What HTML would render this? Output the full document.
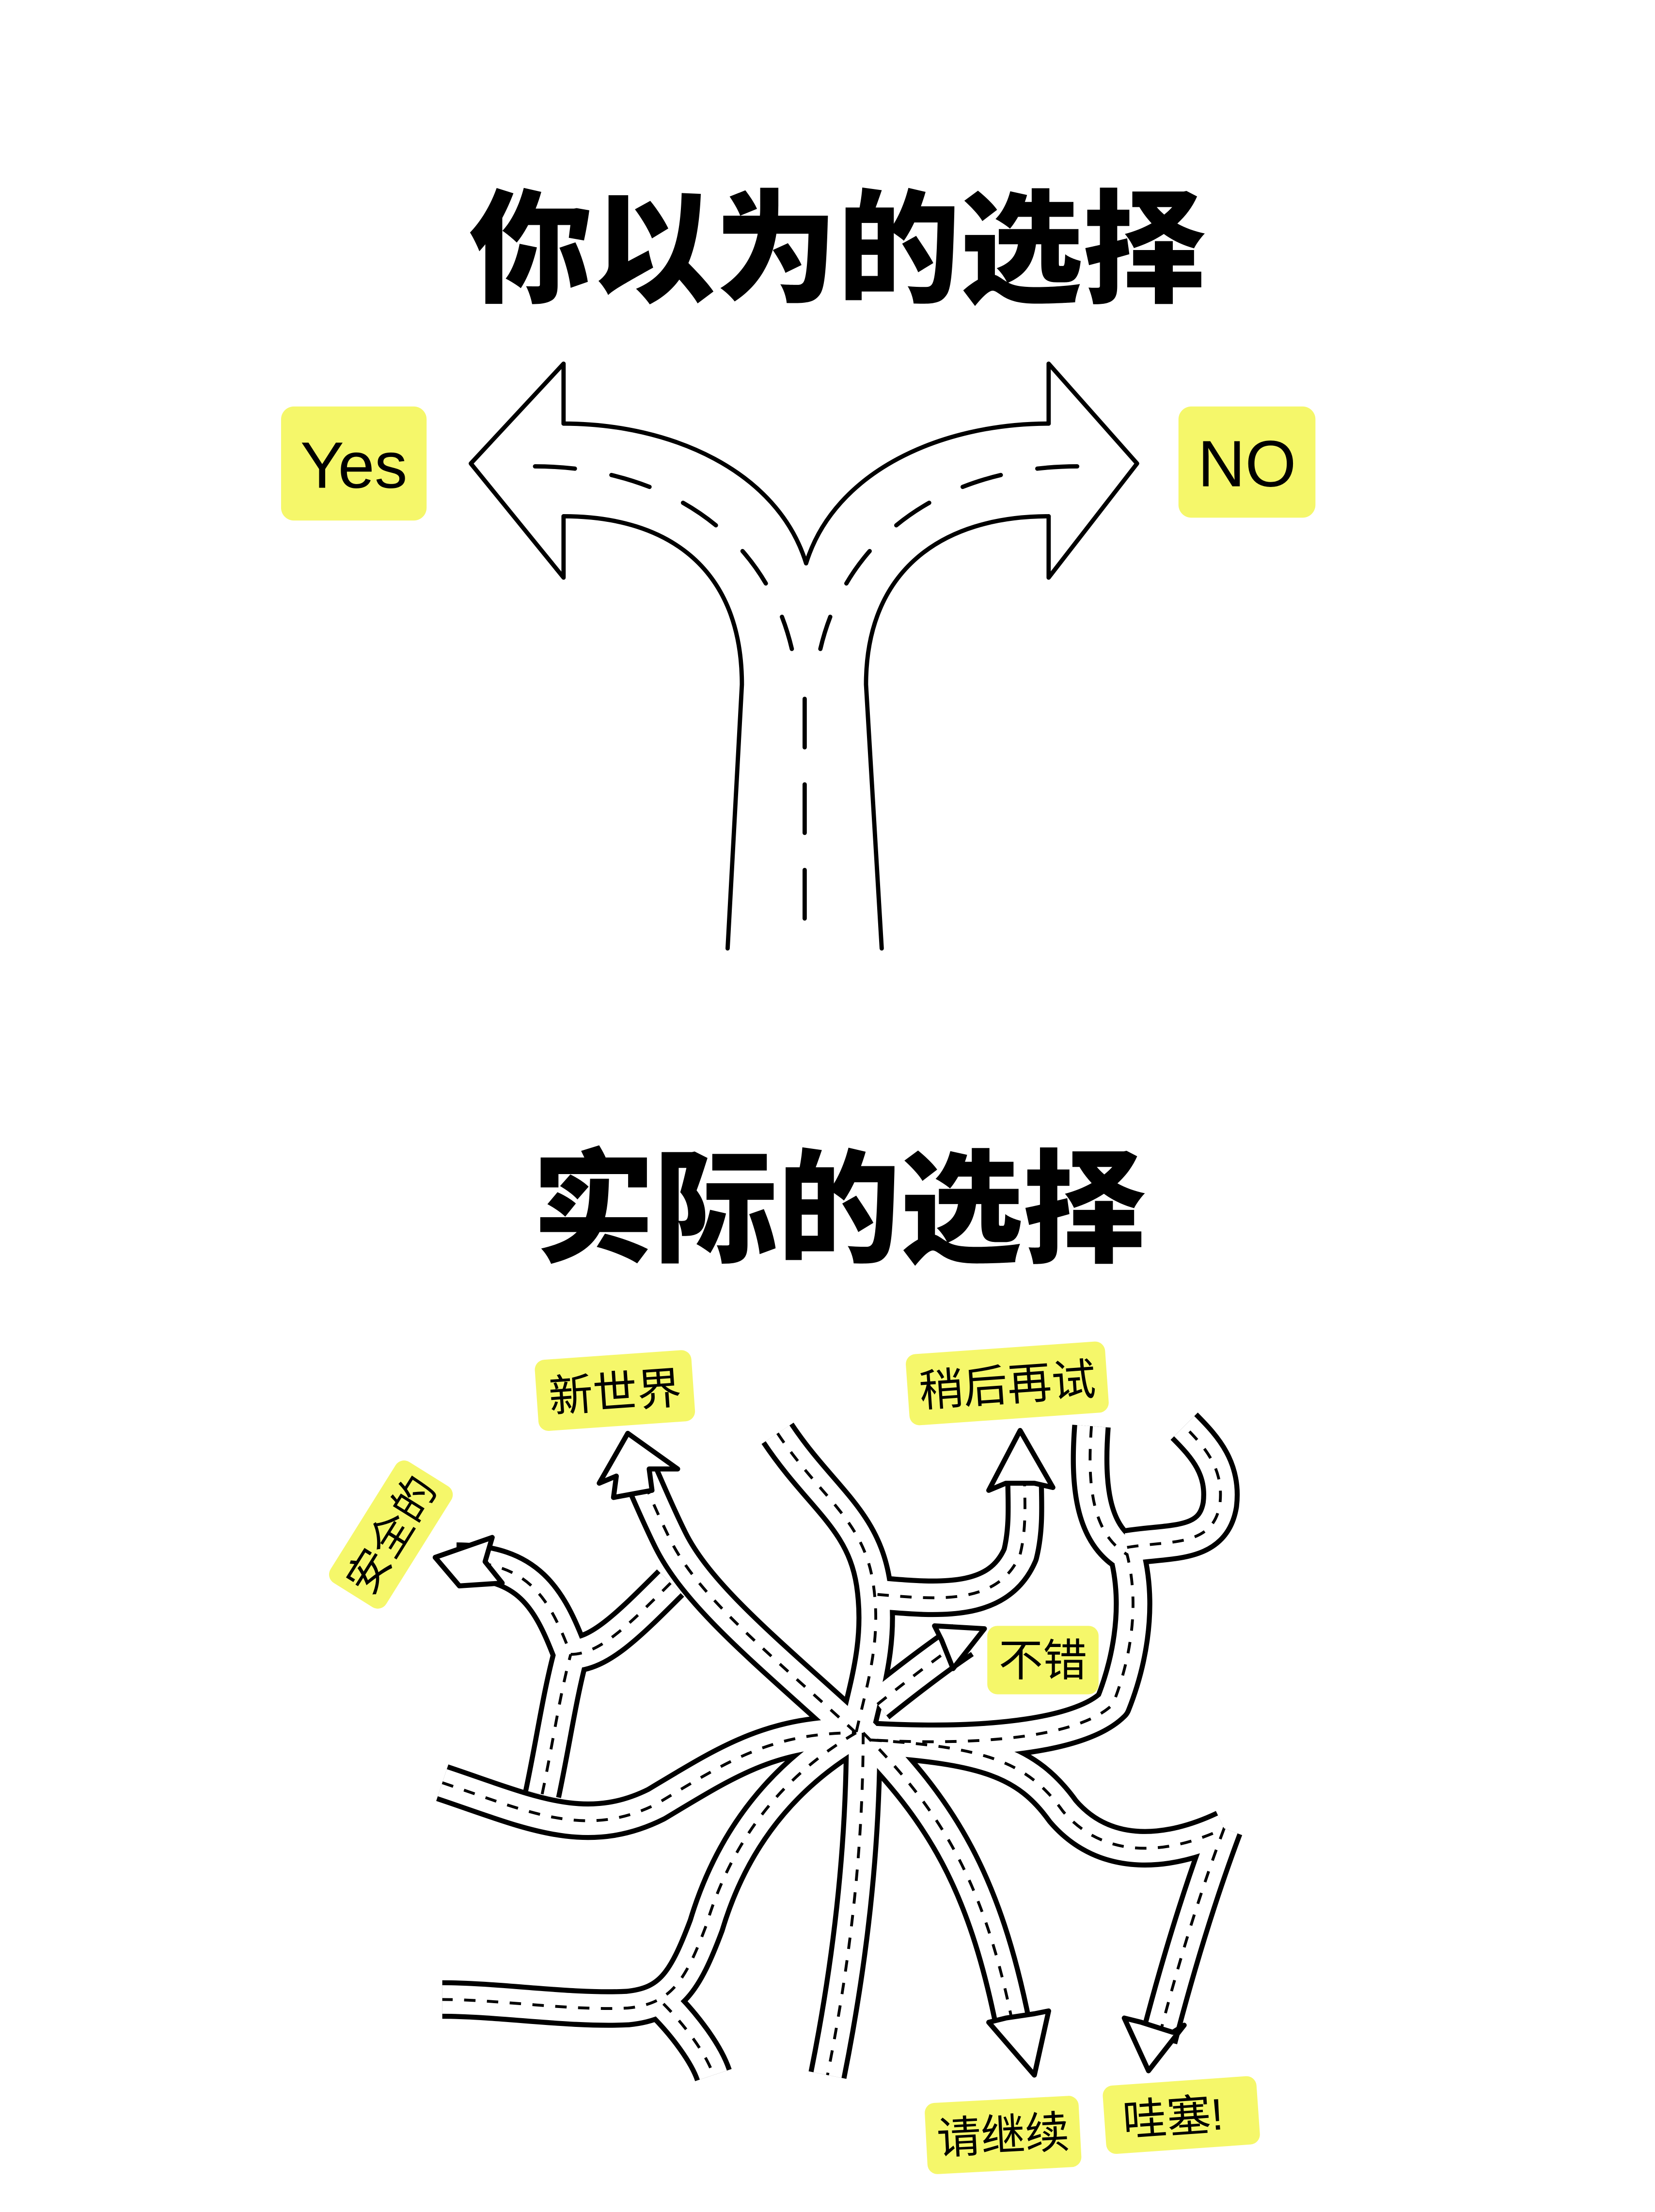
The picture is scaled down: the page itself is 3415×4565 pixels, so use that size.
<!DOCTYPE html>
<html><head><meta charset="utf-8"><style>
html,body{margin:0;padding:0;background:#fff;}
svg{display:block;}
text{font-family:"Liberation Sans","Noto Sans CJK SC",sans-serif;}
</style></head><body>
<svg width="3415" height="4565" viewBox="0 0 1160 1551" preserveAspectRatio="none" xmlns="http://www.w3.org/2000/svg">
<rect width="1160" height="1551" fill="#fff"/>
<text x="587" y="205" text-anchor="middle" font-size="86" font-weight="900" fill="#000">你以为的选择</text>
<text x="588" y="878" text-anchor="middle" font-size="86" font-weight="900" fill="#000">实际的选择</text>

<!-- top fork -->
<g fill="none" stroke="#000" stroke-width="3" stroke-linejoin="round" stroke-linecap="round">
<polyline points="395,297 395,255 330,325 395,405 395,362"/>
<polyline points="735,297 735,255 797,325 735,405 735,362"/>
<path d="M395,297 C470,297 545,330 565,395 C585,330 660,297 735,297"/>
<path d="M395,362 C470,362 520,400 520,480 L510,665"/>
<path d="M735,362 C660,362 607,400 607,480 L618,665"/>
<path d="M375,327 C460,327 535,370 555,455" stroke-dasharray="28 26"/>
<path d="M755,327 C670,327 595,370 575,455" stroke-dasharray="28 26"/>
<path d="M564,490 L564,665" stroke-dasharray="34 26"/>
</g>
<rect x="197" y="285" width="102" height="80" rx="9" fill="#F5F76A"/>
<text x="248" y="342" text-anchor="middle" font-size="46" fill="#000">Yes</text>
<rect x="826" y="285" width="96" height="78" rx="9" fill="#F5F76A"/>
<text x="874" y="341" text-anchor="middle" font-size="46" fill="#000">NO</text>

<!-- roads -->
<defs>
<path id="r1" d="M310,1250 C370,1270 410,1290 460,1265 C510,1235 540,1215 600,1215"/>
<path id="r2" d="M600,1215 C540,1160 490,1120 470,1080 C460,1060 452,1040 445,1025"/>
<path id="r3" d="M470,1110 C440,1140 420,1160 400,1160 C385,1120 370,1095 320,1095"/>
<path id="r4" d="M380,1258 C388,1220 392,1190 400,1160"/>
<path id="r5" d="M545,1005 C575,1050 605,1065 612,1110 C618,1150 608,1180 600,1215"/>
<path id="r6" d="M615,1118 C660,1122 700,1125 715,1090 C720,1070 718,1050 718,1030"/>
<path id="r7" d="M615,1195 C640,1175 660,1160 675,1150"/>
<path id="r8" d="M765,1000 C762,1040 765,1075 790,1090 C800,1130 790,1170 780,1195 C760,1215 700,1225 610,1220"/>
<path id="r9" d="M790,1085 C820,1080 850,1085 855,1055 C858,1030 845,1015 830,1000"/>
<path id="r10" d="M610,1220 C690,1225 720,1235 745,1270 C775,1305 820,1300 858,1282"/>
<path id="r11" d="M858,1282 C840,1330 825,1380 812,1430"/>
<path id="r12" d="M605,1215 C660,1270 690,1320 710,1420"/>
<path id="r13" d="M605,1215 C605,1300 595,1380 580,1455"/>
<path id="r14" d="M600,1215 C540,1250 510,1300 495,1350 C480,1390 470,1405 440,1408 C400,1410 350,1402 310,1402"/>
<path id="r15" d="M465,1405 C480,1420 495,1440 500,1455"/>
</defs>
<g fill="none" stroke="#000" stroke-width="27" stroke-linejoin="round">
<use href="#r1"/><use href="#r2"/><use href="#r3"/><use href="#r4"/><use href="#r5"/><use href="#r6"/><use href="#r7"/><use href="#r8"/><use href="#r9"/><use href="#r10"/><use href="#r11"/><use href="#r12"/><use href="#r13"/><use href="#r14"/><use href="#r15"/>
</g>
<g fill="none" stroke="#fff" stroke-width="20" stroke-linejoin="round">
<use href="#r1"/><use href="#r2"/><use href="#r3"/><use href="#r4"/><use href="#r5"/><use href="#r6"/><use href="#r7"/><use href="#r8"/><use href="#r9"/><use href="#r10"/><use href="#r11"/><use href="#r12"/><use href="#r13"/><use href="#r14"/><use href="#r15"/>
</g>
<g fill="none" stroke="#000" stroke-width="2" stroke-dasharray="8 8">
<use href="#r1"/><use href="#r2"/><use href="#r3"/><use href="#r4"/><use href="#r5"/><use href="#r6"/><use href="#r7"/><use href="#r8"/><use href="#r9"/><use href="#r10"/><use href="#r11"/><use href="#r12"/><use href="#r13"/><use href="#r14"/><use href="#r15"/>
</g>
<!-- arrowheads -->
<g fill="#fff" stroke="#000" stroke-width="3.5" stroke-linejoin="round">
<polygon points="440,1005 475,1030 455,1030 457,1045 430,1050 432,1035 420,1040"/>
<polygon points="305,1092 345,1078 340,1095 352,1110 322,1112"/>
<polygon points="715,1003 738,1043 725,1040 705,1040 693,1045"/>
<polygon points="690,1142 668,1170 660,1150 655,1140"/>
<polygon points="805,1452 788,1415 800,1418 822,1425 830,1420"/>
<polygon points="725,1455 693,1418 705,1415 725,1412 735,1410"/>
</g>

<!-- labels -->
<g transform="rotate(-4 431 975)"><rect x="376" y="950" width="110" height="50" rx="7" fill="#F5F76A"/><text x="431" y="987" text-anchor="middle" font-size="31">新世界</text></g>
<g transform="rotate(-4 706 970)"><rect x="636" y="945" width="140" height="50" rx="7" fill="#F5F76A"/><text x="706" y="982" text-anchor="middle" font-size="31">稍后再试</text></g>
<g transform="rotate(-58 274 1076)"><rect x="224" y="1053" width="100" height="46" rx="7" fill="#F5F76A"/><text x="274" y="1087" text-anchor="middle" font-size="30">安全的</text></g>
<rect x="692" y="1140" width="78" height="48" rx="7" fill="#F5F76A"/><text x="731" y="1175" text-anchor="middle" font-size="31">不错</text>
<g transform="rotate(-3 703 1496)"><rect x="649" y="1472" width="108" height="50" rx="7" fill="#F5F76A"/><text x="703" y="1508" text-anchor="middle" font-size="31">请继续</text></g>
<g transform="rotate(-4 828 1483)"><rect x="774" y="1459" width="108" height="48" rx="7" fill="#F5F76A"/><text x="822" y="1495" text-anchor="middle" font-size="31">哇塞!</text></g>
</svg>
</body></html>
